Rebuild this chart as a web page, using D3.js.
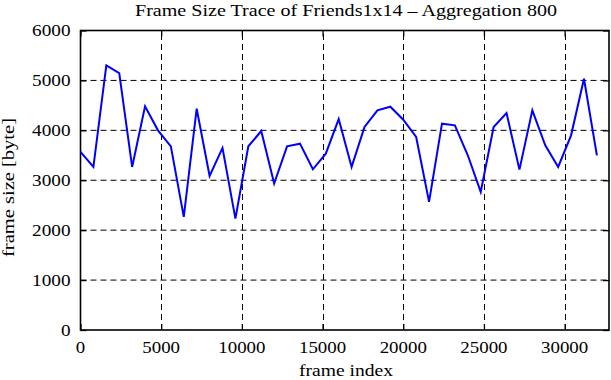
<!DOCTYPE html>
<html>
<head>
<meta charset="utf-8">
<script src="https://cdn.jsdelivr.net/npm/d3@7"></script>
<style>
  body { margin: 0; background: #fff; }
  text { font-family: "Liberation Serif", "Times New Roman", serif; fill: #000; }
</style>
</head>
<body>
<div id="chart"></div>
<script>
// frame index (aggregation step 800) and aggregated frame size
var frameIdx = d3.range(41).map(function(i) { return i * 800; });
var frameSize = [3570, 3267, 5300, 5147, 3267, 4480, 4000, 3680, 2267, 4433,
                 3087, 3647, 2230, 3680, 3987, 2933, 3680, 3733, 3220, 3533,
                 4225, 3267, 4067, 4400, 4473, 4213, 3867, 2567, 4133, 4100,
                 3500, 2767, 4067, 4347, 3213, 4400, 3700, 3267, 3900, 5033,
                 3500];
var xTicks = [0, 5000, 10000, 15000, 20000, 25000, 30000];
var yTicks = [0, 1000, 2000, 3000, 4000, 5000, 6000];

var w = 611, h = 380;
var m = {left: 80.5, right: 2, top: 30.5, bottom: 50};

var svg = d3.select("#chart").append("svg")
  .attr("width", w)
  .attr("height", h);

var x = d3.scaleLinear().domain([0, 32750]).range([m.left, w - m.right]);
var y = d3.scaleLinear().domain([0, 6000]).range([h - m.bottom, m.top]);

// stretch text, the original font runs wider than Times
function widen(sel, f) {
  sel.each(function() {
    var len = this.getComputedTextLength();
    d3.select(this).attr("textLength", len * f).attr("lengthAdjust", "spacingAndGlyphs");
  });
}
function fit(sel, len) {
  sel.attr("textLength", len).attr("lengthAdjust", "spacingAndGlyphs");
}

// grid
var grid = svg.append("g").attr("stroke", "#000").attr("stroke-width", 1)
  .attr("stroke-dasharray", "6,4");
grid.selectAll("line.gx")
  .data(xTicks.filter(function(d) { return d > 0; }))
  .enter().append("line")
  .attr("x1", function(d) { return Math.round(x(d)) + 0.5; })
  .attr("x2", function(d) { return Math.round(x(d)) + 0.5; })
  .attr("y1", y(0)).attr("y2", y(6000));
grid.selectAll("line.gy")
  .data(yTicks.filter(function(d) { return d > 0 && d < 6000; }))
  .enter().append("line")
  .attr("y1", function(d) { return y(d); })
  .attr("y2", function(d) { return y(d); })
  .attr("x1", x.range()[0]).attr("x2", x.range()[1]);

// inward ticks on all four sides
var xAxB = d3.axisBottom(x).tickValues(xTicks).tickSizeInner(-6).tickSizeOuter(0).tickFormat("");
var xAxT = d3.axisTop(x).tickValues(xTicks).tickSizeInner(-6).tickSizeOuter(0).tickFormat("");
var yAxL = d3.axisLeft(y).tickValues(yTicks).tickSizeInner(-6).tickSizeOuter(0).tickFormat("");
var yAxR = d3.axisRight(y).tickValues(yTicks).tickSizeInner(-6).tickSizeOuter(0).tickFormat("");
[[xAxB, "translate(0," + y(0) + ")"], [xAxT, "translate(0," + y(6000) + ")"],
 [yAxL, "translate(" + x.range()[0] + ",0)"], [yAxR, "translate(" + x.range()[1] + ",0)"]]
  .forEach(function(a) {
    var g = svg.append("g").attr("transform", a[1]).call(a[0]);
    g.select(".domain").remove();
    g.selectAll("line").attr("stroke", "#000").attr("stroke-width", 1.3);
  });

// frame
svg.append("rect")
  .attr("x", x.range()[0]).attr("y", y(6000))
  .attr("width", x.range()[1] - x.range()[0])
  .attr("height", y(0) - y(6000))
  .attr("fill", "none").attr("stroke", "#000").attr("stroke-width", 1.6);

// data line
var line = d3.line()
  .x(function(d, i) { return x(frameIdx[i]); })
  .y(function(d) { return y(d); });
svg.append("path")
  .datum(frameSize)
  .attr("d", line)
  .attr("fill", "none")
  .attr("stroke", "#0000ff")
  .attr("stroke-width", 2)
  .attr("stroke-linejoin", "miter");

// tick labels
svg.selectAll("text.xl")
  .data(xTicks).enter().append("text")
  .attr("class", "xl")
  .attr("x", function(d) { return x(d); })
  .attr("y", 353)
  .attr("text-anchor", "middle")
  .style("font-size", "16px")
  .text(function(d) { return d; })
  .call(widen, 1.18);

svg.selectAll("text.yl")
  .data(yTicks).enter().append("text")
  .attr("class", "yl")
  .attr("x", 70.5)
  .attr("y", function(d) { return y(d) + 5.5; })
  .attr("text-anchor", "end")
  .style("font-size", "16px")
  .text(function(d) { return d; })
  .call(widen, 1.2);

// titles
svg.append("text")
  .attr("x", 346).attr("y", 16)
  .attr("text-anchor", "middle")
  .style("font-size", "17.5px")
  .text("Frame Size Trace of Friends1x14 \u2013 Aggregation 800")
  .call(fit, 422);

svg.append("text")
  .attr("x", 346).attr("y", 376)
  .attr("text-anchor", "middle")
  .style("font-size", "17.5px")
  .text("frame index")
  .call(fit, 94);

svg.append("text")
  .attr("transform", "translate(14,187.5) rotate(-90)")
  .attr("text-anchor", "middle")
  .style("font-size", "17px")
  .text("frame size [byte]")
  .call(fit, 139);
</script>
</body>
</html>
